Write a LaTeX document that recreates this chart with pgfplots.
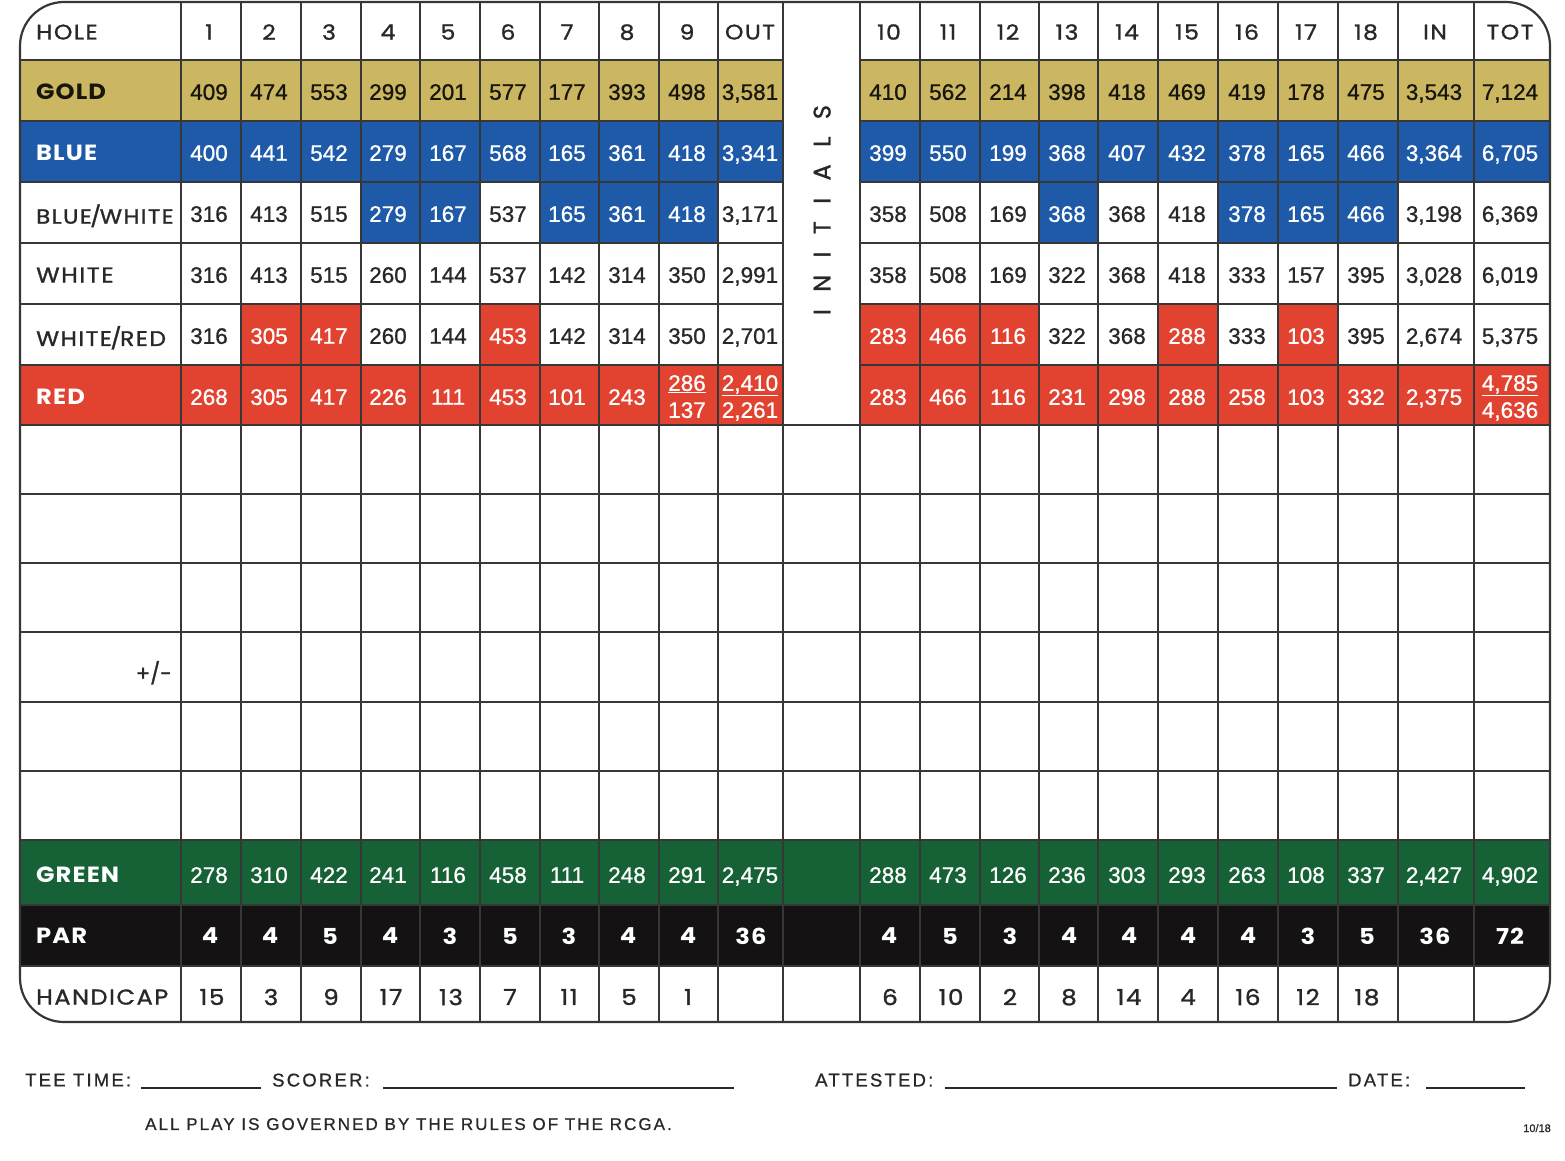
\documentclass[border=0pt]{standalone}
\usepackage{pgfplots}
\pgfplotsset{compat=1.18}
\usepackage{pgfplotstable}
\usepackage{fontspec}
\setmainfont{Liberation Sans}
\newfontfamily\geo[LetterSpace=7, FakeStretch=1.12, FakeBold=1.2]{Poppins}
\newfontfamily\geoB[LetterSpace=5, FakeStretch=1.1]{Poppins}
\newfontfamily\geoI[FakeBold=1.2]{Poppins}
\newfontfamily\num[FakeBold=0.9]{Liberation Sans}
\newfontfamily\foot[LetterSpace=12, FakeBold=0.8]{Liberation Sans}
\definecolor{cgold}{RGB}{203,182,98}
\definecolor{cblue}{RGB}{30,90,168}
\definecolor{cred}{RGB}{226,66,48}
\definecolor{cgreen}{RGB}{22,98,54}
\definecolor{cblack}{RGB}{20,18,18}
\definecolor{ink}{RGB}{40,40,40}
\definecolor{gridc}{RGB}{55,55,55}

% ---------- data: x = column centre, y = row centre, v = printed value
\pgfplotstableread{
x y v
209 32 1
269 32 2
329 32 3
388 32 4
448 32 5
508 32 6
567 32 7
627 32 8
687 32 9
750 32 OUT
889 32 10
948 32 11
1008 32 12
1067 32 13
1127 32 14
1187 32 15
1247 32 16
1306 32 17
1366 32 18
1435 32 IN
1510 32 TOT
}\holerow

\pgfplotstableread{
x y v
209 92 409
269 92 474
329 92 553
388 92 299
448 92 201
508 92 577
567 92 177
627 92 393
687 92 498
750 92 3,581
888 92 410
948 92 562
1008 92 214
1067 92 398
1127 92 418
1187 92 469
1247 92 419
1306 92 178
1366 92 475
1434 92 3,543
1510 92 7,124
}\goldrow

\pgfplotstableread{
x y v
209 153 400
269 153 441
329 153 542
388 153 279
448 153 167
508 153 568
567 153 165
627 153 361
687 153 418
750 153 3,341
888 153 399
948 153 550
1008 153 199
1067 153 368
1127 153 407
1187 153 432
1247 153 378
1306 153 165
1366 153 466
1434 153 3,364
1510 153 6,705
}\bluerow

\pgfplotstableread{
x y v
209 214 316
269 214 413
329 214 515
508 214 537
750 214 3,171
888 214 358
948 214 508
1008 214 169
1127 214 368
1187 214 418
1434 214 3,198
1510 214 6,369
}\bwdark

\pgfplotstableread{
x y v
388 214 279
448 214 167
567 214 165
627 214 361
687 214 418
1067 214 368
1247 214 378
1306 214 165
1366 214 466
}\bwwhite

\pgfplotstableread{
x y v
209 275 316
269 275 413
329 275 515
388 275 260
448 275 144
508 275 537
567 275 142
627 275 314
687 275 350
750 275 2,991
888 275 358
948 275 508
1008 275 169
1067 275 322
1127 275 368
1187 275 418
1247 275 333
1306 275 157
1366 275 395
1434 275 3,028
1510 275 6,019
}\whiterow

\pgfplotstableread{
x y v
209 336 316
388 336 260
448 336 144
567 336 142
627 336 314
687 336 350
750 336 2,701
1067 336 322
1127 336 368
1247 336 333
1366 336 395
1434 336 2,674
1510 336 5,375
}\wrdark

\pgfplotstableread{
x y v
269 336 305
329 336 417
508 336 453
888 336 283
948 336 466
1008 336 116
1187 336 288
1306 336 103
}\wrwhite

\pgfplotstableread{
x y v
209 397 268
269 397 305
329 397 417
388 397 226
448 397 111
508 397 453
567 397 101
627 397 243
687 410 137
750 410 2,261
888 397 283
948 397 466
1008 397 116
1067 397 231
1127 397 298
1187 397 288
1247 397 258
1306 397 103
1366 397 332
1434 397 2,375
1510 410 4,636
}\redrow

\pgfplotstableread{
x y v
687 383 286
750 383 2,410
1510 383 4,785
}\redtop

\pgfplotstableread{
x y v
209 875 278
269 875 310
329 875 422
388 875 241
448 875 116
508 875 458
567 875 111
627 875 248
687 875 291
750 875 2,475
888 875 288
948 875 473
1008 875 126
1067 875 236
1127 875 303
1187 875 293
1247 875 263
1306 875 108
1366 875 337
1434 875 2,427
1510 875 4,902
}\greenrow

\pgfplotstableread{
x y v
210 936 4
270 936 4
330 936 5
390 936 4
450 936 3
510 936 5
569 936 3
628 936 4
688 936 4
751 936 36
889 936 4
950 936 5
1010 936 3
1069 936 4
1129 936 4
1188 936 4
1248 936 4
1308 936 3
1367 936 5
1435 936 36
1510 936 72
}\parrow

\pgfplotstableread{
x y v
212 997 15
271 997 3
331 997 9
391 997 17
451 997 13
510 997 7
569 997 11
629 997 5
688 997 1
890 997 6
951 997 10
1010 997 2
1069 997 8
1129 997 14
1188 997 4
1248 997 16
1308 997 12
1367 997 18
}\hcprow

\pgfplotsset{
  cellbase/.style={only marks, mark=none, point meta=explicit symbolic,
    nodes near coords, nodes near coords align=center},
  darknum/.style={cellbase, every node near coord/.append style={anchor=center, inner sep=0pt, text depth=0pt, font=\num\fontsize{22.5}{24}\selectfont, text=ink}},
  whitenum/.style={cellbase, every node near coord/.append style={anchor=center, inner sep=0pt, text depth=0pt, font=\num\fontsize{22.5}{24}\selectfont, text=white}},
  geotext/.style={cellbase, every node near coord/.append style={anchor=center, inner sep=0pt, text depth=0pt, font=\geo\fontsize{21}{23}\selectfont, text=ink}},
  partext/.style={cellbase, every node near coord/.append style={anchor=center, inner sep=0pt, text depth=0pt, font=\geoB\bfseries\fontsize{22}{24}\selectfont, text=white}},
}

\begin{document}
\begin{tikzpicture}
\begin{axis}[scale only axis, width=1565pt, height=1160pt,
  xmin=0, xmax=1565, ymin=0, ymax=1160, y dir=reverse,
  hide axis, clip=false]

% ---- coloured cells
\fill[cgold] (20,60) rectangle (783,121);
\fill[cgold] (860,60) rectangle (1550,121);
\fill[cblue] (20,121) rectangle (783,182);
\fill[cblue] (860,121) rectangle (1550,182);
\fill[cblue] (361,182) rectangle (480,243);
\fill[cblue] (540,182) rectangle (718,243);
\fill[cblue] (1039,182) rectangle (1098,243);
\fill[cblue] (1218,182) rectangle (1398,243);
\fill[cred] (241,304) rectangle (361,365);
\fill[cred] (480,304) rectangle (540,365);
\fill[cred] (860,304) rectangle (1039,365);
\fill[cred] (1158,304) rectangle (1218,365);
\fill[cred] (1278,304) rectangle (1338,365);
\fill[cred] (20,365) rectangle (783,425);
\fill[cred] (860,365) rectangle (1550,425);
\fill[cgreen] (20,840) rectangle (1550,905);
\fill[cblack] (20,905) rectangle (1550,966);

% ---- grid
\pgfplotsinvokeforeach{60,121,182,243,304,365}{
  \draw[gridc, line width=1.3pt] (20,#1) -- (783,#1);
  \draw[gridc, line width=1.3pt] (860,#1) -- (1550,#1);
}
\pgfplotsinvokeforeach{425,494,563,632,702,771,840,905,966}{
  \draw[gridc, line width=1.3pt] (20,#1) -- (1550,#1);
}
\pgfplotsinvokeforeach{181,241,301,361,420,480,540,599,659,718,783,860,920,980,1039,1098,1158,1218,1278,1338,1398,1474}{
  \draw[gridc, line width=1.3pt] (#1,2) -- (#1,1022);
}
\draw[gridc, line width=2.2pt, rounded corners=44pt] (20,2) rectangle (1550,1022);

% ---- values
\addplot[geotext] table[x=x, y=y, meta=v] {\holerow};
\addplot[darknum, every node near coord/.append style={text=black!88!cgold}] table[x=x, y=y, meta=v] {\goldrow};
\addplot[whitenum] table[x=x, y=y, meta=v] {\bluerow};
\addplot[darknum] table[x=x, y=y, meta=v] {\bwdark};
\addplot[whitenum] table[x=x, y=y, meta=v] {\bwwhite};
\addplot[darknum] table[x=x, y=y, meta=v] {\whiterow};
\addplot[darknum] table[x=x, y=y, meta=v] {\wrdark};
\addplot[whitenum] table[x=x, y=y, meta=v] {\wrwhite};
\addplot[whitenum] table[x=x, y=y, meta=v] {\redrow};
\addplot[whitenum, nodes near coords={\underline{\pgfplotspointmeta}}] table[x=x, y=y, meta=v] {\redtop};
\addplot[whitenum] table[x=x, y=y, meta=v] {\greenrow};
\addplot[partext] table[x=x, y=y, meta=v] {\parrow};
\addplot[geotext, every node near coord/.append style={font=\geo\fontsize{22}{24}\selectfont}] table[x=x, y=y, meta=v] {\hcprow};

% ---- row labels
\node[anchor=west, inner sep=0, text depth=0pt, text=ink, font=\geo\fontsize{21}{23}\selectfont] at (36,32) {HOLE};
\node[anchor=west, inner sep=0, text depth=0pt, text=black!88!cgold, font=\geoB\bfseries\fontsize{22}{23}\selectfont] at (36,92) {GOLD};
\node[anchor=west, inner sep=0, text depth=0pt, text=white, font=\geoB\bfseries\fontsize{22}{23}\selectfont] at (36,153) {BLUE};
\node[anchor=west, inner sep=0, text depth=0pt, text=ink, font=\geo\fontsize{20.5}{23}\selectfont] at (36,214) {BLUE\kern-1.5pt/\kern-1.5pt WHITE};
\node[anchor=west, inner sep=0, text depth=0pt, text=ink, font=\geo\fontsize{21.5}{23}\selectfont] at (36,275) {WHITE};
\node[anchor=west, inner sep=0, text depth=0pt, text=ink, font=\geo\fontsize{21}{23}\selectfont] at (36,336) {WHITE\kern-1.5pt/\kern-1.5pt RED};
\node[anchor=west, inner sep=0, text depth=0pt, text=white, font=\geoB\bfseries\fontsize{22}{23}\selectfont] at (36,397) {RED};
\node[anchor=east, inner sep=0, text depth=0pt, text=ink, font=\geoI\fontsize{21}{23}\selectfont] at (172,671) {+/-};
\node[anchor=west, inner sep=0, text depth=0pt, text=white, font=\geoB\bfseries\fontsize{22}{23}\selectfont] at (36,875) {GREEN};
\node[anchor=west, inner sep=0, text depth=0pt, text=white, font=\geoB\bfseries\fontsize{22}{23}\selectfont] at (36,936) {PAR};
\node[anchor=west, inner sep=0, text depth=0pt, text=ink, font=\geo\fontsize{21.5}{23}\selectfont] at (36,997) {HANDICAP};

\node[rotate=90, inner sep=0, text depth=0pt, text=ink, font=\geoI\fontsize{24}{24}\selectfont] at (822,210)
  {\makebox[210pt][s]{I\hfill N\hfill I\hfill T\hfill I\hfill A\hfill L\hfill S}};

% ---- footer
\node[anchor=west, inner sep=0, text depth=0pt, text=ink, font=\foot\fontsize{18.5}{20}\selectfont] at (25,1080) {TEE TIME:};
\draw[ink, line width=1.4pt] (141,1088) -- (261,1088);
\node[anchor=west, inner sep=0, text depth=0pt, text=ink, font=\foot\fontsize{18.5}{20}\selectfont] at (272,1080) {SCORER:};
\draw[ink, line width=1.4pt] (383,1088) -- (734,1088);
\node[anchor=west, inner sep=0, text depth=0pt, text=ink, font=\foot\fontsize{18.5}{20}\selectfont] at (815,1080) {ATTESTED:};
\draw[ink, line width=1.4pt] (945,1088) -- (1337,1088);
\node[anchor=west, inner sep=0, text depth=0pt, text=ink, font=\foot\fontsize{18.5}{20}\selectfont] at (1348,1080) {DATE:};
\draw[ink, line width=1.4pt] (1426,1088) -- (1525,1088);
\node[anchor=west, inner sep=0, text depth=0pt, text=ink, font=\foot\fontsize{17}{18}\selectfont] at (145,1124) {ALL PLAY IS GOVERNED BY THE RULES OF THE RCGA.};
\node[inner sep=0, text depth=0pt, text=ink, font=\num\fontsize{11}{12}\selectfont] at (1537,1128) {10/18};
\end{axis}
\pgfresetboundingbox
\path (current axis.south west) rectangle (current axis.north east);
\end{tikzpicture}
\end{document}
